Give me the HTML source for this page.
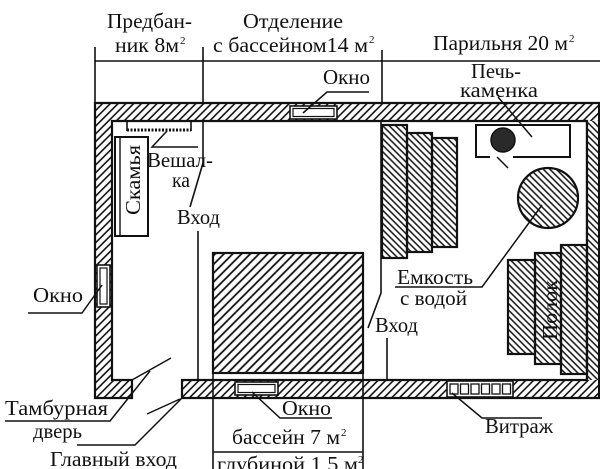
<!DOCTYPE html>
<html><head><meta charset="utf-8"><style>
html,body{margin:0;padding:0;background:#fff;}
svg{display:block;}
text{font-family:"Liberation Serif","DejaVu Serif",serif;font-size:21px;fill:#111;}
.s{font-size:11px;}
</style></head><body>
<svg width="600" height="469" viewBox="0 0 600 469" xmlns="http://www.w3.org/2000/svg">
<defs>
<pattern id="hw" width="5.5" height="5.5" patternUnits="userSpaceOnUse" patternTransform="rotate(45)">
<line x1="2.75" y1="-1" x2="2.75" y2="7" stroke="#111" stroke-width="1.6"/>
</pattern>
<pattern id="hp" width="6.2" height="6.2" patternUnits="userSpaceOnUse" patternTransform="rotate(45)">
<line x1="3.1" y1="-1" x2="3.1" y2="8" stroke="#111" stroke-width="1.8"/>
</pattern>
<pattern id="hb" width="4.6" height="4.6" patternUnits="userSpaceOnUse" patternTransform="rotate(-45)">
<line x1="2.3" y1="-1" x2="2.3" y2="6" stroke="#111" stroke-width="1.5"/>
</pattern>
</defs>

<!-- top dimension lines -->
<g stroke="#111" stroke-width="1.6" fill="none">
<line x1="95" y1="61" x2="600" y2="61"/>
<line x1="95" y1="47" x2="95" y2="103"/>
<line x1="203" y1="47" x2="203" y2="103"/>
<line x1="382" y1="50" x2="382" y2="103"/>
</g>

<!-- walls -->
<path d="M95,103 H600 V398 H182 V380 H587 V121 H112 V380 H132 V398 H95 Z" fill="url(#hw)" stroke="#111" stroke-width="2.2"/>
<rect x="587" y="121" width="13" height="259" fill="#fff"/>
<rect x="587" y="121" width="13" height="259" fill="url(#hb)"/>
<line x1="587" y1="121" x2="587" y2="380" stroke="#111" stroke-width="2.2"/>
<line x1="599" y1="103" x2="599" y2="398" stroke="#111" stroke-width="2"/>

<!-- windows -->
<rect x="290" y="106" width="47" height="13" fill="#fff" stroke="#111" stroke-width="1.6"/>
<rect x="293" y="108.5" width="41" height="8" fill="none" stroke="#111" stroke-width="1.2"/>
<rect x="97" y="265" width="13" height="42" fill="#fff" stroke="#111" stroke-width="1.6"/>
<rect x="100" y="268" width="7" height="36" fill="none" stroke="#111" stroke-width="1.2"/>
<rect x="235" y="382" width="43" height="13" fill="#fff" stroke="#111" stroke-width="1.6"/>
<rect x="238" y="384.5" width="37" height="8" fill="none" stroke="#111" stroke-width="1.2"/>
<rect x="447" y="381" width="66" height="16" fill="#fff" stroke="#111" stroke-width="1.6"/>
<g fill="none" stroke="#111" stroke-width="1.3">
<rect x="450" y="384" width="8" height="10"/>
<rect x="460.5" y="384" width="8" height="10"/>
<rect x="471" y="384" width="8" height="10"/>
<rect x="481.5" y="384" width="8" height="10"/>
<rect x="492" y="384" width="8" height="10"/>
<rect x="502.5" y="384" width="8" height="10"/>
</g>

<!-- coat hanger -->
<g stroke="#111" fill="none">
<line x1="127" y1="121" x2="127" y2="131" stroke-width="1.6"/>
<line x1="191" y1="121" x2="191" y2="131" stroke-width="1.6"/>
<line x1="127" y1="130" x2="191" y2="130" stroke-width="3" stroke-dasharray="2 1.5"/>
</g>

<!-- bench -->
<rect x="115" y="137" width="33" height="99" fill="#fff" stroke="#111" stroke-width="2"/>
<line x1="120" y1="137" x2="120" y2="236" stroke="#111" stroke-width="1.4"/>

<!-- pool -->
<rect x="213" y="253" width="150" height="120" fill="url(#hp)" stroke="#111" stroke-width="2.2"/>

<!-- partitions / doors -->
<g stroke="#111" stroke-width="1.6" fill="none">
<polyline points="203,121 203,163 190,207"/>
<line x1="198" y1="231" x2="198" y2="380"/>
<polyline points="381,121 381,293 368,328"/>
<line x1="387" y1="338" x2="387" y2="380"/>
<line x1="213" y1="373" x2="213" y2="469"/>
<line x1="363" y1="373" x2="363" y2="469"/>
<line x1="213" y1="452" x2="363" y2="452"/>
</g>

<!-- steam room benches -->
<g fill="url(#hb)" stroke="#111" stroke-width="2.2">
<rect x="382" y="125" width="25" height="133"/>
<rect x="407" y="133" width="25" height="119"/>
<rect x="432" y="138" width="25" height="109"/>
<rect x="508" y="260" width="27" height="94"/>
<rect x="535" y="253" width="26" height="111"/>
<rect x="561" y="245" width="26" height="129"/>
</g>

<!-- stove -->
<path d="M490,157 H476 V125 H570 V157 H513" fill="none" stroke="#111" stroke-width="2"/>
<circle cx="503" cy="140" r="12" fill="#2a2a2a" stroke="#111" stroke-width="1.5"/>
<!-- water tank -->
<circle cx="548" cy="198" r="30" fill="url(#hb)" stroke="#111" stroke-width="2.2"/>

<!-- leaders -->
<g stroke="#111" stroke-width="1.5" fill="none">
<polyline points="303,113 327,92 369,92"/>
<line x1="498" y1="97" x2="532" y2="137"/>
<line x1="497" y1="157" x2="508" y2="168"/>
<polyline points="167,131 152,147 198,147"/>
<polyline points="542,205 482,287 395,287"/>
<polyline points="28,313 82,313 102,285"/>
<polyline points="252,392 280,418 332,418"/>
<polyline points="452,393 482,418 542,418"/>
<line x1="132" y1="380" x2="171" y2="358"/>
<polyline points="5,421 110,421 150,371"/>
<polyline points="77,445 135,445 182,398"/>
<line x1="147" y1="414" x2="180" y2="399"/>
</g>

<!-- labels -->
<text x="107" y="28" textLength="85" lengthAdjust="spacingAndGlyphs">Предбан-</text>
<text x="115" y="52" textLength="64" lengthAdjust="spacingAndGlyphs">ник 8м</text>
<text class="s" x="180" y="44">2</text>
<text x="243" y="28" textLength="100" lengthAdjust="spacingAndGlyphs">Отделение</text>
<text x="213" y="52" textLength="155" lengthAdjust="spacingAndGlyphs">с бассейном14 м</text>
<text class="s" x="369" y="43">2</text>
<text x="433" y="50" textLength="135" lengthAdjust="spacingAndGlyphs">Парильня 20 м</text>
<text class="s" x="569" y="42">2</text>
<text x="471" y="78" textLength="50" lengthAdjust="spacingAndGlyphs">Печь-</text>
<text x="460" y="97" textLength="78" lengthAdjust="spacingAndGlyphs">каменка</text>
<text x="323" y="84" textLength="47" lengthAdjust="spacingAndGlyphs">Окно</text>
<text x="147" y="167" textLength="66" lengthAdjust="spacingAndGlyphs">Вешал-</text>
<text x="172" y="187" textLength="18" lengthAdjust="spacingAndGlyphs">ка</text>
<text x="177" y="224" textLength="43" lengthAdjust="spacingAndGlyphs">Вход</text>
<text x="33" y="302" textLength="50" lengthAdjust="spacingAndGlyphs">Окно</text>
<text x="397" y="284" textLength="76" lengthAdjust="spacingAndGlyphs">Емкость</text>
<text x="400" y="305" textLength="67" lengthAdjust="spacingAndGlyphs">с водой</text>
<text x="375" y="332" textLength="43" lengthAdjust="spacingAndGlyphs">Вход</text>
<text x="5" y="415" textLength="103" lengthAdjust="spacingAndGlyphs">Тамбурная</text>
<text x="33" y="438" textLength="49" lengthAdjust="spacingAndGlyphs">дверь</text>
<text x="50" y="466" textLength="127" lengthAdjust="spacingAndGlyphs">Главный вход</text>
<text x="282" y="415" textLength="49" lengthAdjust="spacingAndGlyphs">Окно</text>
<text x="232" y="444" textLength="108" lengthAdjust="spacingAndGlyphs">бассейн 7 м</text>
<text class="s" x="341" y="436">2</text>
<text x="217" y="471" textLength="141" lengthAdjust="spacingAndGlyphs">глубиной 1,5 м</text>
<text class="s" x="358" y="463">2</text>
<text x="485" y="433" textLength="68" lengthAdjust="spacingAndGlyphs">Витраж</text>
<text transform="translate(140,180) rotate(-90)" x="0" y="0" text-anchor="middle" textLength="70" lengthAdjust="spacingAndGlyphs">Скамья</text>
<text transform="translate(557,310) rotate(-90)" x="0" y="0" text-anchor="middle" textLength="60" lengthAdjust="spacingAndGlyphs">Полок</text>
</svg>
</body></html>
